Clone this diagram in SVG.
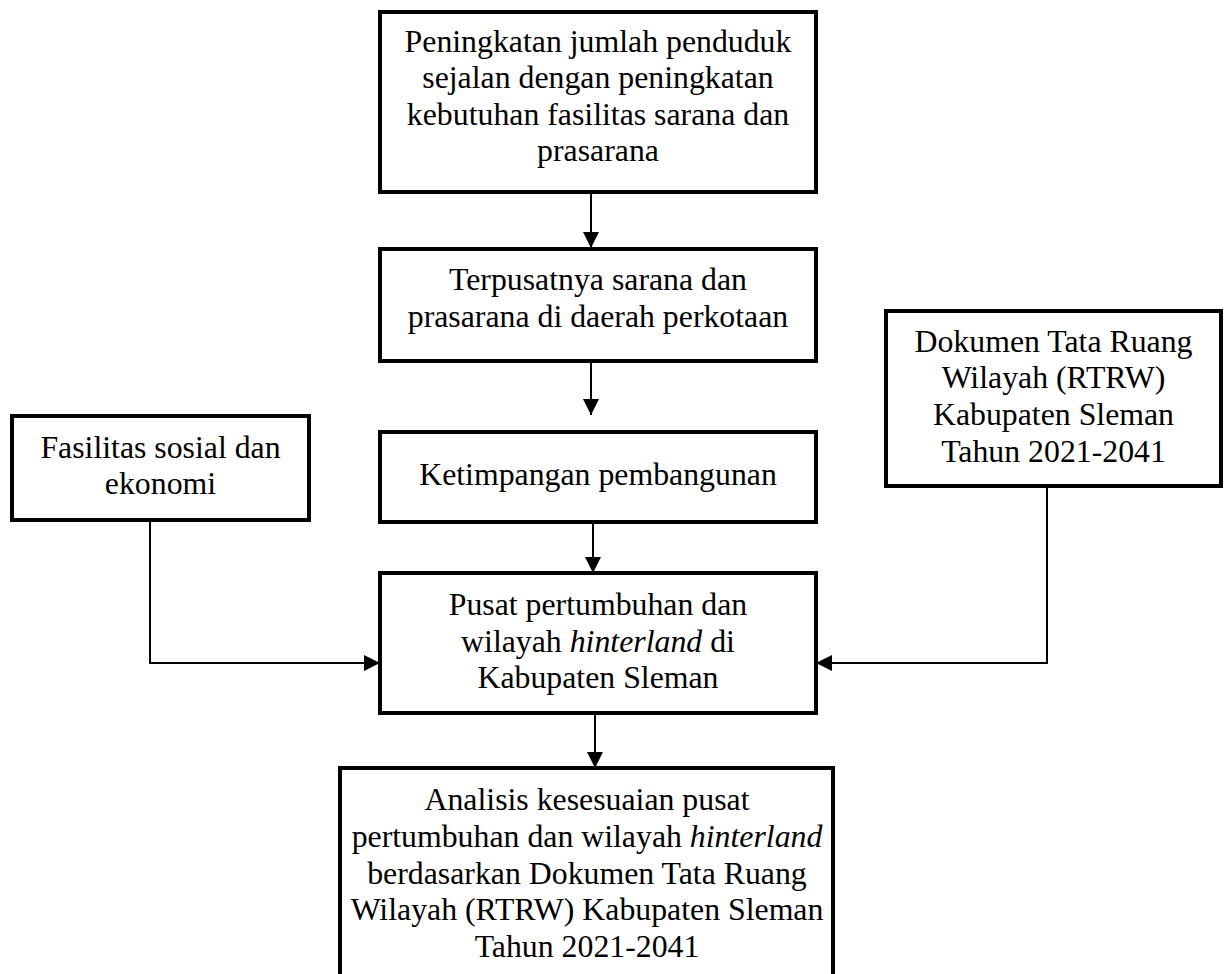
<svg xmlns="http://www.w3.org/2000/svg" width="1225" height="974" viewBox="0 0 1225 974">
  <style>
    .box { fill: #ffffff; stroke: #000000; stroke-width: 4; }
    .lbl { font-family: "Liberation Serif", "Times New Roman", serif; font-size: 31.8px; fill: #000000; text-anchor: middle; }
    .it { font-style: italic; }
    .conn { fill: none; stroke: #000000; stroke-width: 2; }
  </style>
  <defs>
    <marker id="arrow" viewBox="0 0 16 16" refX="16" refY="8" markerWidth="16" markerHeight="16" markerUnits="userSpaceOnUse" orient="auto">
      <path d="M0,0 L16,8 L0,16 Z" fill="#000000"/>
    </marker>
  </defs>
  <rect width="1225" height="974" fill="#ffffff"/>

  <g id="connectors">
    <path class="conn" d="M591,192 V248" marker-end="url(#arrow)"/>
    <path class="conn" d="M591,361 V415" marker-end="url(#arrow)"/>
    <path class="conn" d="M593,522 V573" marker-end="url(#arrow)"/>
    <path class="conn" d="M595,713 V768" marker-end="url(#arrow)"/>
    <path class="conn" d="M150,520 V663 H380" marker-end="url(#arrow)"/>
    <path class="conn" d="M1047,486 V663 H816" marker-end="url(#arrow)"/>
  </g>

  <g id="node-peningkatan">
    <rect class="box" x="380" y="12" width="436" height="180"/>
    <text class="lbl" x="598" y="52">Peningkatan jumlah penduduk</text>
    <text class="lbl" x="598" y="88">sejalan dengan peningkatan</text>
    <text class="lbl" x="598" y="125">kebutuhan fasilitas sarana dan</text>
    <text class="lbl" x="598" y="161">prasarana</text>
  </g>

  <g id="node-terpusatnya">
    <rect class="box" x="380" y="249" width="436" height="112"/>
    <text class="lbl" x="598" y="290">Terpusatnya sarana dan</text>
    <text class="lbl" x="598" y="327">prasarana di daerah perkotaan</text>
  </g>

  <g id="node-ketimpangan">
    <rect class="box" x="380" y="432" width="436" height="90"/>
    <text class="lbl" x="598" y="485">Ketimpangan pembangunan</text>
  </g>

  <g id="node-fasilitas">
    <rect class="box" x="12" y="416" width="297" height="104"/>
    <text class="lbl" x="160.5" y="458">Fasilitas sosial dan</text>
    <text class="lbl" x="160.5" y="494">ekonomi</text>
  </g>

  <g id="node-dokumen">
    <rect class="box" x="886" y="311" width="335" height="175"/>
    <text class="lbl" x="1053.5" y="352">Dokumen Tata Ruang</text>
    <text class="lbl" x="1053.5" y="388">Wilayah (RTRW)</text>
    <text class="lbl" x="1053.5" y="425">Kabupaten Sleman</text>
    <text class="lbl" x="1053.5" y="462">Tahun 2021-2041</text>
  </g>

  <g id="node-pusat">
    <rect class="box" x="380" y="573" width="436" height="140"/>
    <text class="lbl" x="598" y="615">Pusat pertumbuhan dan</text>
    <text class="lbl" x="598" y="652">wilayah <tspan class="it">hinterland</tspan> di</text>
    <text class="lbl" x="598" y="688">Kabupaten Sleman</text>
  </g>

  <g id="node-analisis">
    <rect class="box" x="340" y="768" width="493" height="220"/>
    <text class="lbl" x="587" y="810">Analisis kesesuaian pusat</text>
    <text class="lbl" x="587" y="847">pertumbuhan dan wilayah <tspan class="it">hinterland</tspan></text>
    <text class="lbl" x="587" y="884">berdasarkan Dokumen Tata Ruang</text>
    <text class="lbl" x="587" y="920">Wilayah (RTRW) Kabupaten Sleman</text>
    <text class="lbl" x="587" y="957">Tahun 2021-2041</text>
  </g>
</svg>
